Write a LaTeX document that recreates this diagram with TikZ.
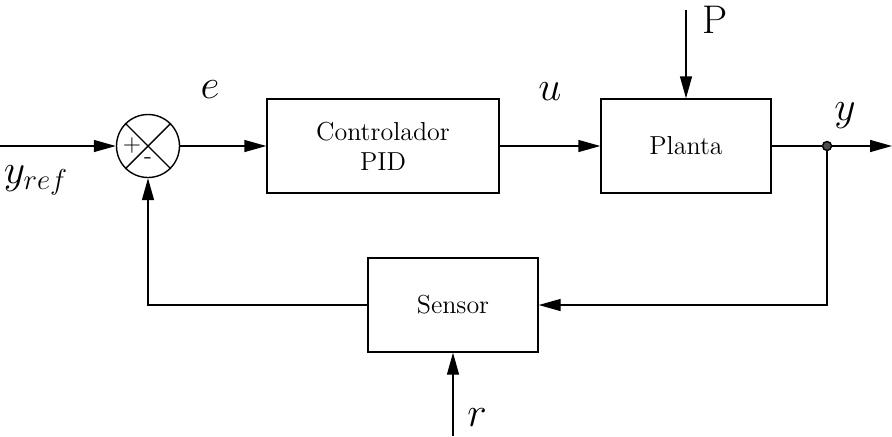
\documentclass[tikz,border=0pt]{standalone}
\usepackage{amsmath}
\usetikzlibrary{positioning,arrows.meta,calc}

\begin{document}
\begin{tikzpicture}[
    x=0.5pt,y=-0.5pt,
    >={Triangle[length=11pt,width=6pt]},
    line width=0.7pt,
    arrow/.style={->},
    block/.style={rectangle,draw,minimum width=85pt,minimum height=47pt,align=center,
        font=\fontsize{13}{15}\selectfont},
    sumnode/.style={circle,draw,minimum size=31.5pt,inner sep=0pt},
    junction/.style={circle,draw,fill=black!70,minimum size=4.5pt,inner sep=0pt},
    sig/.style={font=\fontsize{20}{24}\selectfont},
]
\useasboundingbox (0,0) rectangle (892,436);

% === BLOCKS ===
\node[sumnode] (sum) at (148,146) {};
\node[block,minimum width=116pt] (ctrl) at (383,146) {Controlador\\PID};
\node[block] (plant) at (686,146) {Planta};
\node[block] (sensor) at (453,305) {Sensor};
\node[junction] (branch) at (827,146) {};

% Summing junction
\draw (sum.north west) -- (sum.south east);
\draw (sum.north east) -- (sum.south west);
\node[font=\large] (plus) at ($(sum)+(-16,0)$) {+};
\node[font=\large] (minus) at ($(sum)+(0,15)$) {-};

% Free ends
\coordinate (in) at (0,146);
\coordinate (out) at (892,146);
\coordinate (dist) at (686,10);
\coordinate (noise) at (453,436);

% === MAIN FLOW ===
\draw[arrow] (in) -- (sum);
\draw[arrow] (sum) -- (ctrl);
\draw[arrow] (ctrl) -- (plant);
\draw[arrow] (dist) -- (plant);
\draw (plant) -- (branch);
\draw[arrow] (branch) -- (out);

% === FEEDBACK ===
\draw[arrow] (branch) |- (sensor);
\draw[arrow] (sensor) -| (sum);
\draw[arrow] (noise) -- (sensor);

% === LABELS ===
\node[sig] (yref_lbl) at (36,180) {$y_{ref}$};
\node[sig] (e_lbl) at (210,90) {$e$};
\node[sig] (u_lbl) at (550,92) {$u$};
\node[sig] (y_lbl) at (845,116) {$y$};
\node[sig] (p_lbl) at (715,20) {P};
\node[sig] (r_lbl) at (477,418) {$r$};

\end{tikzpicture}
\end{document}
